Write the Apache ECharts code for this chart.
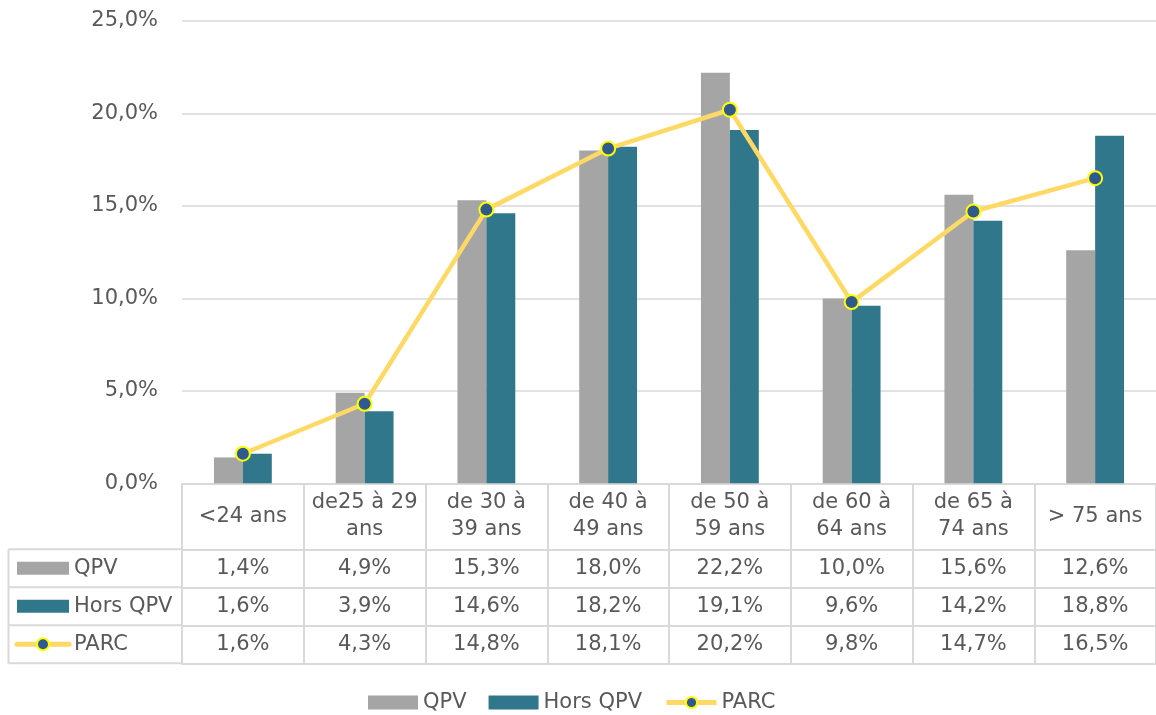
<!DOCTYPE html>
<html><head><meta charset="utf-8">
<script src="https://cdn.jsdelivr.net/npm/echarts@6/dist/echarts.min.js"></script>
<style>html,body{margin:0;padding:0;background:#fff}#c{width:1156px;height:715px}</style>
</head><body><div id="c"></div>
<script>
// ---- data ----
const categories = ['<24 ans', 'de25 à 29\nans', 'de 30 à\n39 ans', 'de 40 à\n49 ans', 'de 50 à\n59 ans', 'de 60 à\n64 ans', 'de 65 à\n74 ans', '> 75 ans'];
const seriesNames = ['QPV', 'Hors QPV', 'PARC'];
const qpv = [1.4, 4.9, 15.3, 18.0, 22.2, 10.0, 15.6, 12.6];
const horsQpv = [1.6, 3.9, 14.6, 18.2, 19.1, 9.6, 14.2, 18.8];
const parc = [1.6, 4.3, 14.8, 18.1, 20.2, 9.8, 14.7, 16.5];
const yTicks = [0, 5, 10, 15, 20, 25];

// ---- style / layout ----
const FONT = 'DejaVu Sans';
const TXT = '#595959';
const GRIDC = '#D9D9D9';
const C_QPV = '#A5A5A5', C_HORS = '#31778B', C_LINE = '#FFD966', C_MARK = '#2F5A8F', C_MARKB = '#FFFF00';
const W = 1156, H = 715;
const gridLeft = 182, gridTop = 21, plotBottom = 483.3, gridRight = -2.8;
const headerH = 66, rowH = 38, tableLeft = 8.5;
const fmt = v => v.toFixed(1).replace('.', ',') + '%';
const border = { color: GRIDC, width: 2 };
const rows = [qpv, horsQpv, parc];

function tableAxis(offset, height, formatter, showLabel) {
  return {
    type: 'category', gridIndex: 0, position: 'bottom', offset: offset, data: categories,
    axisLine: { show: true, onZero: false, lineStyle: border },
    axisTick: { show: height > 0, length: height, interval: 0, alignWithLabel: false, lineStyle: border },
    axisLabel: { show: showLabel, interval: 0, formatter: formatter, margin: height / 2, verticalAlign: 'middle',
      fontFamily: FONT, fontSize: 21, color: TXT, lineHeight: 27 },
    splitLine: { show: false }
  };
}

const xAxes = [tableAxis(0, headerH, v => v, true)];
rows.forEach((r, k) => {
  xAxes.push(tableAxis(headerH + k * rowH, rowH, (v, i) => fmt(r[i]), true));
});
xAxes.push(tableAxis(headerH + rows.length * rowH, 0, v => '', false));

// left column of the data table
const graphics = [];
const rowTop0 = plotBottom + headerH;
for (let k = 0; k <= rows.length; k++) {
  const y = rowTop0 + k * rowH;
  graphics.push({ type: 'line', shape: { x1: tableLeft, y1: y, x2: gridLeft, y2: y }, style: { stroke: GRIDC, lineWidth: 2 }, silent: true });
}
graphics.push({ type: 'line', shape: { x1: tableLeft, y1: rowTop0, x2: tableLeft, y2: rowTop0 + rows.length * rowH }, style: { stroke: GRIDC, lineWidth: 2 }, silent: true });
const iconColors = [C_QPV, C_HORS];
seriesNames.forEach((name, k) => {
  const cy = rowTop0 + k * rowH + rowH / 2;
  if (k < 2) {
    graphics.push({ type: 'rect', shape: { x: 17, y: cy - 6.5, width: 52, height: 13 }, style: { fill: iconColors[k] }, silent: true });
  } else {
    graphics.push({ type: 'line', shape: { x1: 17, y1: cy, x2: 69, y2: cy }, style: { stroke: C_LINE, lineWidth: 5, lineCap: 'round' }, silent: true });
    graphics.push({ type: 'circle', shape: { cx: 43, cy: cy, r: 6 }, style: { fill: C_MARK, stroke: C_MARKB, lineWidth: 2 }, silent: true });
  }
  graphics.push({ type: 'text', x: 74, y: cy, style: { text: name, fontFamily: FONT, fontSize: 21, fill: TXT, verticalAlign: 'middle', align: 'left' }, silent: true });
});

const chart = echarts.init(document.getElementById('c'), null, { renderer: 'canvas' });
chart.setOption({
  animation: false,
  backgroundColor: '#fff',
  grid: { left: gridLeft, top: gridTop, right: gridRight, bottom: H - plotBottom, containLabel: false },
  xAxis: xAxes,
  yAxis: {
    type: 'value', min: yTicks[0], max: yTicks[yTicks.length - 1], interval: yTicks[1] - yTicks[0],
    axisLine: { show: false }, axisTick: { show: false },
    axisLabel: { formatter: v => fmt(v), fontFamily: FONT, fontSize: 21, color: TXT, margin: 24 },
    splitLine: { lineStyle: { color: GRIDC, width: 1.5 } }
  },
  legend: {
    left: 363, top: 687, itemWidth: 50, itemHeight: 14, itemGap: 22,
    textStyle: { fontFamily: FONT, fontSize: 21, color: TXT },
    lineStyle: { width: 5 },
    data: [
      { name: seriesNames[0], icon: 'rect' },
      { name: seriesNames[1], icon: 'rect' },
      { name: seriesNames[2] }
    ]
  },
  graphic: graphics,
  series: [
    { name: seriesNames[0], type: 'bar', data: qpv, itemStyle: { color: C_QPV }, barGap: '0%', barCategoryGap: '52.5%' },
    { name: seriesNames[1], type: 'bar', data: horsQpv, itemStyle: { color: C_HORS }, barGap: '0%', barCategoryGap: '52.5%' },
    { name: seriesNames[2], type: 'line', data: parc, symbol: 'circle', symbolSize: 14,
      itemStyle: { color: C_MARK, borderColor: C_MARKB, borderWidth: 2 },
      lineStyle: { color: C_LINE, width: 4.5 }, z: 5 }
  ]
});
</script>
</body></html>
